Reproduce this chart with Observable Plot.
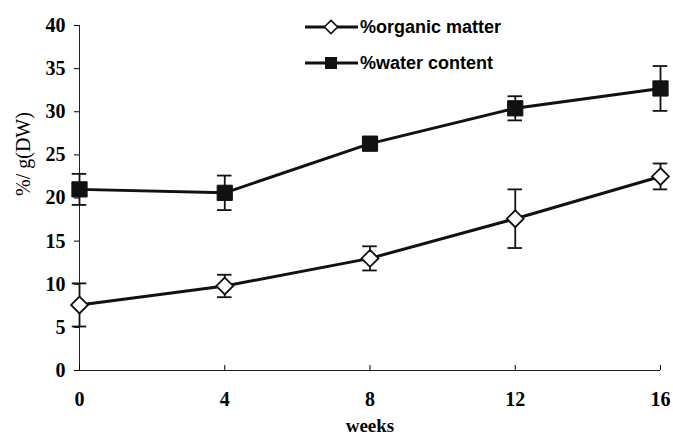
<!DOCTYPE html>
<html>
<head>
<meta charset="utf-8">
<script src="https://cdn.jsdelivr.net/npm/d3@7"></script>
<script src="https://cdn.jsdelivr.net/npm/@observablehq/plot@0.6"></script>
<style>
  html, body { margin: 0; padding: 0; background: #fff; }
  #chart { position: relative; width: 673px; height: 437px; }
</style>
</head>
<body>
<div id="chart"></div>
<script>
const weeks = [0, 4, 8, 12, 16];
const organicMean = [7.6, 9.8, 13.0, 17.6, 22.5];
const organicErr  = [2.5, 1.3, 1.4, 3.4, 1.5];
const waterMean   = [21.0, 20.6, 26.3, 30.4, 32.7];
const waterErr    = [1.8, 2.0, 0.4, 1.4, 2.6];
const seriesNames = ["%organic matter", "%water content"];
const xTicks = [0, 4, 8, 12, 16];
const yTicks = [0, 5, 10, 15, 20, 25, 30, 35, 40];

const organic = weeks.map((w, i) => ({week: w, value: organicMean[i], err: organicErr[i], series: seriesNames[0]}));
const water = weeks.map((w, i) => ({week: w, value: waterMean[i], err: waterErr[i], series: seriesNames[1]}));
const all = organic.concat(water);

const serif = "'Liberation Serif', 'Times New Roman', serif";
const sans = "'Liberation Sans', Arial, sans-serif";
const capHalf = 0.2;

const plot = Plot.plot({
  width: 673,
  height: 437,
  marginLeft: 79,
  marginRight: 13,
  marginTop: 25,
  marginBottom: 67,
  style: {fontFamily: serif, fontSize: "20px", fontWeight: "bold", background: "#fff", color: "#000"},
  x: {domain: [0, 16]},
  y: {domain: [0, 40]},
  marks: [
    Plot.ruleX([0], {stroke: "#222", strokeWidth: 1}),
    Plot.ruleY([0], {stroke: "#222", strokeWidth: 1}),
    Plot.axisY({ticks: yTicks, tickSize: 5, tickPadding: 9, label: null, fontSize: 20, fontWeight: "bold", fontFamily: serif}),
    Plot.axisX({ticks: xTicks, tickSize: -5, tickPadding: 26, label: null, fontSize: 20, fontWeight: "bold", fontFamily: serif}),
    Plot.text(["%/ g(DW)"], {frameAnchor: "left", rotate: -90, dx: -56, dy: -2, fontFamily: serif, fontWeight: "normal", fontSize: 20, fill: "#000"}),
    Plot.text(["weeks"], {frameAnchor: "bottom", lineAnchor: "middle", dy: 55, fontFamily: serif, fontWeight: "bold", fontSize: 19}),
    // error bars
    Plot.ruleX(all, {x: "week", y1: d => d.value - d.err, y2: d => d.value + d.err, stroke: "#111", strokeWidth: 1.8}),
    Plot.ruleY(all, {y: d => d.value + d.err, x1: d => d.week - capHalf, x2: d => d.week + capHalf, stroke: "#111", strokeWidth: 1.8}),
    Plot.ruleY(all, {y: d => d.value - d.err, x1: d => d.week - capHalf, x2: d => d.week + capHalf, stroke: "#111", strokeWidth: 1.8}),
    // lines
    Plot.line(organic, {x: "week", y: "value", stroke: "#111", strokeWidth: 3}),
    Plot.line(water, {x: "week", y: "value", stroke: "#111", strokeWidth: 3}),
    // markers
    Plot.dot(organic, {x: "week", y: "value", symbol: "diamond2", r: 7.6, fill: "#fff", stroke: "#111", strokeWidth: 1.8}),
    Plot.dot(water, {x: "week", y: "value", symbol: "square", r: 8.6, fill: "#111", stroke: "#111", strokeWidth: 1})
  ]
});

document.getElementById("chart").appendChild(plot);

// legend inside plot area
const svg = d3.select(plot);
const legend = svg.append("g").attr("transform", "translate(305,0)");
const rows = [
  {name: seriesNames[0], y: 27, sym: "diamond"},
  {name: seriesNames[1], y: 63, sym: "square"}
];
rows.forEach(r => {
  const g = legend.append("g").attr("transform", `translate(0,${r.y})`);
  g.append("line").attr("x1", 0).attr("x2", 53).attr("y1", 0).attr("y2", 0)
    .attr("stroke", "#111").attr("stroke-width", 3);
  if (r.sym === "diamond") {
    g.append("path").attr("d", d3.symbol(d3.symbolDiamond2, Math.PI * 6 * 6)())
      .attr("transform", "translate(26,0)").attr("fill", "#fff").attr("stroke", "#111").attr("stroke-width", 1.6);
  } else {
    g.append("rect").attr("x", 20).attr("y", -6).attr("width", 12).attr("height", 12).attr("fill", "#111");
  }
  g.append("text").attr("x", 55).attr("y", 0).attr("dy", "0.35em")
    .attr("text-anchor", "start")
    .attr("font-family", sans).attr("font-weight", "bold").attr("font-size", 18)
    .attr("fill", "#000").text(r.name);
});
</script>
</body>
</html>
